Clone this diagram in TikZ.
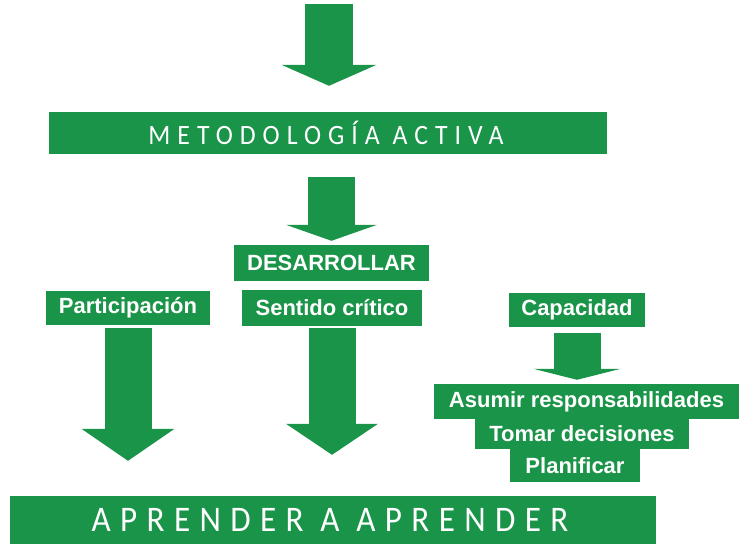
\documentclass[tikz,border=0pt]{standalone}
\usepackage{fontspec}
\usetikzlibrary{arrows.meta}
\newfontfamily\etiqueta{Liberation Sans}
\newfontfamily\finaA{Carlito}[LetterSpace=25, FakeStretch=0.92]
\newfontfamily\finaB{Carlito}[LetterSpace=26, FakeStretch=0.92]
\definecolor{verde}{RGB}{26,148,72}
\tikzset{
  caja/.style={fill=verde, text=white, inner sep=0pt, align=center,
    font=\etiqueta\bfseries\fontsize{22}{26}\selectfont},
  flecha/.style args={#1/#2/#3}{draw=verde, line width=#1,
    -{Triangle[width=#2, length=#3, line width=0pt, fill=verde]}}
}
\begin{document}
\begin{tikzpicture}[x=1pt, y=-1pt]
      \useasboundingbox (0,0) rectangle (744,544);
      \draw
        (329,4) coordinate (inicio)
        (328,133) node[caja, minimum width=558pt, minimum height=42pt,
          font=\finaA\fontsize{28}{32}\selectfont] (metodologia){METODOLOGÍA ACTIVA\hspace*{4pt}}
        (331.5,263) node[caja, minimum width=195pt, minimum height=36pt] (desarrollar){DESARROLLAR}
        (128,308) node[caja, minimum width=164pt, minimum height=34pt] (participacion){Participación}
        (332,308) node[caja, minimum width=180pt, minimum height=36pt] (sentido){Sentido crítico}
        (577,310) node[caja, minimum width=136pt, minimum height=34pt] (capacidad){Capacidad}
        (586.5,401.5) node[caja, minimum width=305pt, minimum height=35pt] (asumir){Asumir responsabilidades}
        (582,434) node[caja, minimum width=214pt, minimum height=30pt] (tomar){Tomar decisiones}
        (575,465.5) node[caja, minimum width=130pt, minimum height=33pt] (planificar){Planificar}
        (333,520) node[caja, minimum width=646pt, minimum height=48pt,
          font=\finaB\fontsize{36}{40}\selectfont] (aprender){APRENDER A APRENDER\hspace*{6pt}};
      \begin{scope}
        \draw[flecha=48pt/95pt/21pt, shorten >=26pt] (inicio) -- (inicio |- metodologia.north);
        \draw[flecha=47pt/91pt/16pt, shorten <=23pt, shorten >=4pt] (desarrollar.north |- metodologia.south) -- (desarrollar.north);
        \draw[flecha=47pt/93pt/32pt, shorten <=3pt, shorten >=35pt] (participacion.south) -- (participacion.south |- aprender.north);
        \draw[flecha=47pt/92pt/31pt, shorten <=2pt, shorten >=41pt] (sentido.south) -- (sentido.south |- aprender.north);
        \draw[flecha=47pt/87pt/11pt, shorten <=6pt, shorten >=4pt] (capacidad.south) -- (capacidad.south |- asumir.north);
      \end{scope}
    \end{tikzpicture}
\end{document}
